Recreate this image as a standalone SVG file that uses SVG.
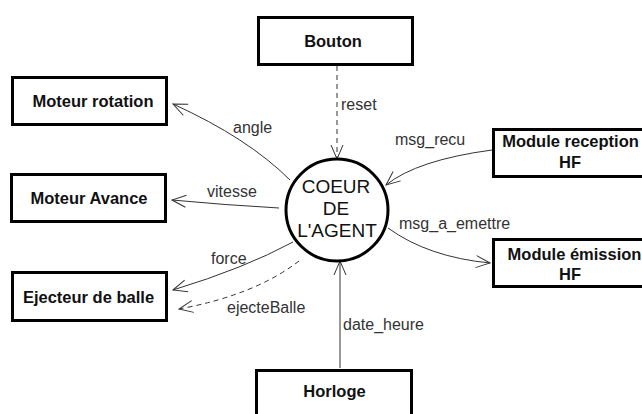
<svg xmlns="http://www.w3.org/2000/svg" width="642" height="414" viewBox="0 0 642 414">
<style>
.box{fill:#fff;stroke:#000;stroke-width:3}
.nt{font-family:"Liberation Sans",Arial,sans-serif;font-weight:bold;font-size:16.5px;fill:#111;text-anchor:middle}
.ct{font-family:"Liberation Sans",Arial,sans-serif;font-size:19px;fill:#111;text-anchor:middle}
.lb{font-family:"Liberation Sans",Arial,sans-serif;font-size:16px;fill:#333}
.cn{fill:none;stroke:#333;stroke-width:1;marker-end:url(#arr)}
.dash{stroke-dasharray:5,4}
</style>
<defs>
<marker id="arr" markerUnits="userSpaceOnUse" viewBox="-16 -8 18 16" refX="0" refY="0" markerWidth="18" markerHeight="16" orient="auto">
<path d="M-14,-6 L0,0 L-14,6" fill="none" stroke="#333" stroke-width="1"/>
</marker>
</defs>
<rect width="642" height="414" fill="#fff"/>
<g id="connectors">
<path class="cn dash" d="M337,66 L337,159"/>
<path class="cn" d="M290,180 Q248,138 173,104"/>
<path class="cn" d="M279,208 Q225,205 172,200"/>
<path class="cn" d="M293,242 Q245,268 173,290"/>
<path class="cn dash" d="M299,261 Q255,295 179,309"/>
<path class="cn" d="M492,150 Q417,160 386,185"/>
<path class="cn" d="M388,228 Q428,257 490,263"/>
<path class="cn" d="M340,368 L340,261"/>
<text class="lb" x="341" y="110">reset</text>
<text class="lb" x="233" y="133">angle</text>
<text class="lb" x="207" y="197">vitesse</text>
<text class="lb" x="211" y="264">force</text>
<text class="lb" x="227" y="313">ejecteBalle</text>
<text class="lb" x="395" y="145">msg_recu</text>
<text class="lb" x="399" y="229">msg_a_emettre</text>
<text class="lb" x="343" y="330">date_heure</text>
</g>
<g id="coeur">
<circle cx="337" cy="210" r="51" fill="#fff" stroke="#000" stroke-width="3"/>
<text class="ct" x="336" y="193">COEUR</text>
<text class="ct" x="336" y="215">DE</text>
<text class="ct" x="337" y="237">L'AGENT</text>
</g>
<g id="bouton">
<rect class="box" x="258.5" y="17.5" width="154" height="47"/>
<text class="nt" x="333" y="47">Bouton</text>
</g>
<g id="moteur-rotation">
<rect class="box" x="12.5" y="77.5" width="154" height="47"/>
<text class="nt" x="93" y="107">Moteur rotation</text>
</g>
<g id="moteur-avance">
<rect class="box" x="11.5" y="174.5" width="154" height="47"/>
<text class="nt" x="89" y="204">Moteur Avance</text>
</g>
<g id="ejecteur">
<rect class="box" x="12.5" y="272.5" width="154" height="48"/>
<text class="nt" x="88.5" y="303">Ejecteur de balle</text>
</g>
<g id="horloge">
<rect class="box" x="256.5" y="370.5" width="155" height="60"/>
<text class="nt" x="334.5" y="397">Horloge</text>
</g>
<g id="module-reception">
<rect class="box" x="493.5" y="129.5" width="154" height="47"/>
<text class="nt" x="570.5" y="147">Module reception</text>
<text class="nt" x="570" y="168">HF</text>
</g>
<g id="module-emission">
<rect class="box" x="493.5" y="239.5" width="154" height="47"/>
<text class="nt" x="574.5" y="260">Module émission</text>
<text class="nt" x="570" y="280">HF</text>
</g>
</svg>
